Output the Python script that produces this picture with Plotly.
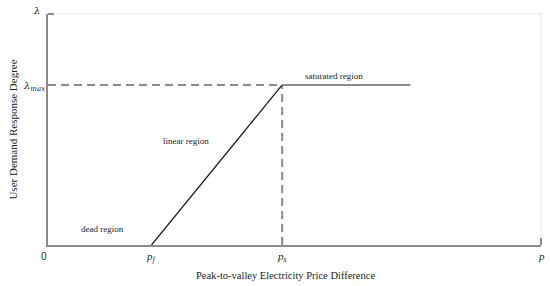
import plotly.graph_objects as go

# Data (normalized units)
p_f = 0.21
p_s = 0.475
p_end = 0.735
lam_max = 0.693

curve_x = [p_f, p_s]
curve_y = [0, lam_max]
sat_x = [p_s, p_end]
sat_y = [lam_max, lam_max]
dash_h_x = [0, p_s]
dash_h_y = [lam_max, lam_max]
dash_v_x = [p_s, p_s]
dash_v_y = [0, lam_max]

region_labels = ["dead region", "linear region", "saturated region"]
region_x = [0.11, 0.28, 0.58]
region_y = [0.07, 0.45, 0.73]

serif = "Liberation Serif, Times New Roman, serif"
axis_col = "#8a8a8a"

fig = go.Figure()
fig.add_trace(go.Scatter(x=dash_h_x, y=dash_h_y, mode="lines",
                         line=dict(color=axis_col, width=2, dash="8px,5px")))
fig.add_trace(go.Scatter(x=dash_v_x, y=dash_v_y, mode="lines",
                         line=dict(color=axis_col, width=2, dash="8px,5px")))
fig.add_trace(go.Scatter(x=curve_x, y=curve_y, mode="lines",
                         line=dict(color="#111", width=1.2)))
fig.add_trace(go.Scatter(x=sat_x, y=sat_y, mode="lines",
                         line=dict(color=axis_col, width=2)))

for t, x, y in zip(region_labels, region_x, region_y):
    fig.add_annotation(x=x, y=y, text=t, showarrow=False, xanchor="center", yanchor="middle",
                       font=dict(family=serif, size=9, color="#222"))

# tick-like labels
fig.add_annotation(x=0, y=0, text="0", showarrow=False, xanchor="right", yanchor="top",
                   xshift=1, yshift=-4, font=dict(family="Liberation Sans, Arial", size=10, color="#222"))
fig.add_annotation(x=p_f, y=0, text="<i>p</i><sub><i>f</i></sub>", showarrow=False,
                   xanchor="center", yanchor="top", yshift=-3,
                   font=dict(family=serif, size=11, color="#222"))
fig.add_annotation(x=p_s, y=0, text="<i>p</i><sub><i>s</i></sub>", showarrow=False,
                   xanchor="center", yanchor="top", yshift=-3,
                   font=dict(family=serif, size=11, color="#222"))
fig.add_annotation(x=1, y=0, text="<i>p</i>", showarrow=False,
                   xanchor="center", yanchor="top", yshift=-3,
                   font=dict(family=serif, size=11, color="#222"))
fig.add_annotation(x=0, y=1, text="<i>λ</i>", showarrow=False,
                   xanchor="right", yanchor="middle", xshift=-6, yshift=4,
                   font=dict(family="DejaVu Serif", size=10, color="#222"))
fig.add_annotation(x=0, y=lam_max, text="<i>λ</i><sub><i>max</i></sub>", showarrow=False,
                   xanchor="right", yanchor="middle", xshift=-1, yshift=-2,
                   font=dict(family="DejaVu Serif", size=10, color="#222"))

# x-axis title
fig.add_annotation(xref="paper", yref="paper", x=0.481, y=0, yshift=-30,
                   text="Peak-to-valley Electricity Price Difference", showarrow=False,
                   xanchor="center", yanchor="middle",
                   font=dict(family=serif, size=10.5, color="#222"))

# axis frame: faint top/right, corner stubs
fig.add_shape(type="line", xref="paper", yref="paper", x0=0, x1=1, y0=1, y1=1,
              line=dict(color="#e6e6e6", width=1))
fig.add_shape(type="line", xref="paper", yref="paper", x0=1, x1=1, y0=0, y1=1,
              line=dict(color="#e6e6e6", width=1))
fig.add_shape(type="line", xref="paper", yref="paper", x0=0, x1=0.012, y0=1, y1=1,
              line=dict(color=axis_col, width=2))
fig.add_shape(type="line", xref="paper", yref="paper", x0=1, x1=1, y0=0, y1=0.03,
              line=dict(color=axis_col, width=2))

fig.update_layout(
    width=550, height=286,
    margin=dict(l=48, r=9, t=14, b=41, autoexpand=False),
    paper_bgcolor="white", plot_bgcolor="white",
    showlegend=False,
    xaxis=dict(range=[0, 1], showgrid=False, zeroline=False, showticklabels=False,
               ticks="", showline=True, linecolor=axis_col, linewidth=2, automargin=False),
    yaxis=dict(range=[0, 1], showgrid=False, zeroline=False, showticklabels=False,
               ticks="", showline=True, linecolor=axis_col, linewidth=2, automargin=False,
               title=dict(text="User Demand Response Degree", standoff=26,
                          font=dict(family=serif, size=11, color="#222"))),
)

fig.write_html("out.html", config={"displayModeBar": False},
               post_script="document.body.style.margin='0';document.body.style.overflow='hidden';")
